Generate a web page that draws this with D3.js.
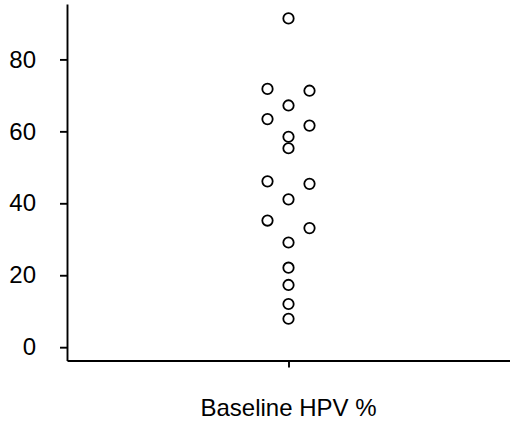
<!DOCTYPE html>
<html>
<head>
<meta charset="utf-8">
<script src="https://cdn.jsdelivr.net/npm/d3@7"></script>
<style>
  body { margin: 0; background: #fff; }
  svg { display: block; font-family: "Liberation Sans", Arial, sans-serif; }
</style>
</head>
<body>
<svg id="chart" width="510" height="423"></svg>
<script>
// data
const groups = [""];
const xTitle = "Baseline HPV %";
const yTicks = [0, 20, 40, 60, 80];
const hpvValues = [91.4, 71.8, 71.3, 67.2, 63.4, 61.6, 58.5, 55.3, 46.1, 45.4, 41.1, 35.2, 33.1, 29.1, 22.1, 17.3, 12.0, 7.9];
// swarm column of each point: -1 left, 0 centre, 1 right
const hpvSlots = [0, -1, 1, 0, -1, 1, 0, 0, -1, 1, 0, -1, 1, 0, 0, 0, 0, 0];

const svg = d3.select('#chart');
const width = 510, height = 423;
const plotLeft = 67, plotTop = 4, plotBottom = 360.5;

const x = d3.scalePoint().domain(groups).range([plotLeft, width]).padding(0.5);
const y = d3.scaleLinear().domain([-3.7, 95.4]).range([plotBottom, plotTop]);
const slot = d3.scaleLinear().domain([-1, 1]).range([-21, 21]);

// y axis
const yAxis = svg.append('g')
  .attr('transform', `translate(${plotLeft},0)`)
  .call(d3.axisLeft(y).tickValues(yTicks).tickSize(7).tickSizeOuter(0).tickPadding(24));
yAxis.selectAll('text').attr('font-size', 24).attr('fill', '#000').attr('font-family', null);
yAxis.selectAll('path, line').attr('stroke', '#000').attr('stroke-width', 1.9);

// x axis
const xAxis = svg.append('g')
  .attr('transform', `translate(0,${plotBottom})`)
  .call(d3.axisBottom(x).tickSize(7).tickSizeOuter(0));
xAxis.selectAll('text').remove();
xAxis.selectAll('path, line').attr('stroke', '#000').attr('stroke-width', 1.9);

svg.append('text')
  .attr('x', x(groups[0]))
  .attr('y', 416)
  .attr('text-anchor', 'middle')
  .attr('font-size', 24)
  .attr('fill', '#000')
  .text(xTitle);

// points
svg.append('g')
  .selectAll('circle')
  .data(hpvValues)
  .join('circle')
  .attr('cx', (d, i) => x(groups[0]) + slot(hpvSlots[i]))
  .attr('cy', d => y(d))
  .attr('r', 5.2)
  .attr('fill', 'none')
  .attr('stroke', '#000')
  .attr('stroke-width', 1.8);
</script>
</body>
</html>
